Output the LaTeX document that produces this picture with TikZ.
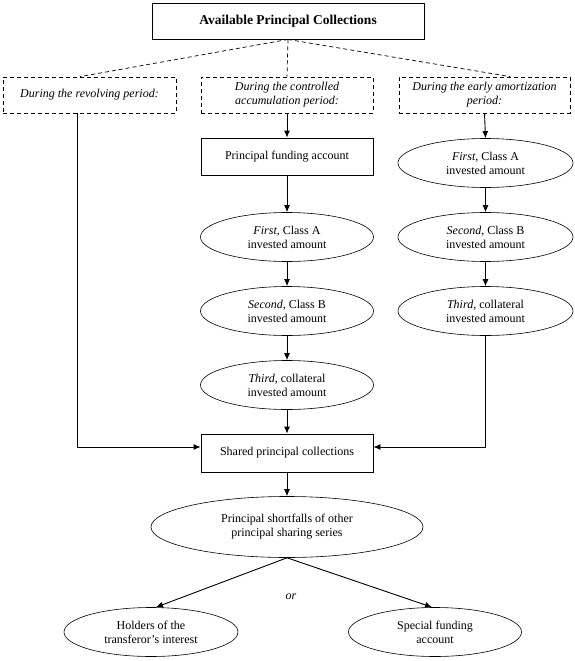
\documentclass[tikz,border=0pt]{standalone}
\usepackage{fontspec}
\setmainfont{Liberation Serif}
\usepackage{tikz}
\usetikzlibrary{shapes.geometric,arrows.meta,calc}

\begin{document}
\begin{tikzpicture}[x=1pt,y=-1pt,
		every node/.style={font=\fontsize{12}{14}\selectfont,align=center},
		solidbox/.style={draw,line width=0.9pt,minimum width=172pt,minimum height=37pt,inner sep=0pt},
		periodbox/.style={draw,dash pattern=on 4pt off 3pt,line width=0.7pt,minimum height=36pt,inner sep=0pt,font=\fontsize{12}{14}\selectfont\itshape},
		payee/.style={draw,ellipse,line width=0.6pt,minimum width=174pt,minimum height=49pt,inner sep=0pt},
		flow/.style={line width=0.9pt,-{Latex[length=7pt,width=6pt]}}]
				\useasboundingbox (0,0) rectangle (575,661);
				
				\node[solidbox,minimum width=272pt,minimum height=36pt,font=\fontsize{13.5}{16}\selectfont\bfseries] (avail) at (288,21){Available Principal Collections};
				
				\node[periodbox,minimum width=173pt] (rev) at (89.5,95){During the revolving period:};
				\node[periodbox,minimum width=172pt] (acc) at (287,95){During the controlled\\accumulation period:};
				\node[periodbox,minimum width=171pt] (early) at (484.5,95){During the early amortization\\period:};
				
				\draw[dash pattern=on 4pt off 3pt,line width=0.7pt] (avail.south)--($(rev.north west)!0.445!(rev.north east)$);
				\draw[dash pattern=on 4pt off 3pt,line width=0.7pt] (avail.south)--(acc.north);
				\draw[dash pattern=on 4pt off 3pt,line width=0.7pt] (avail.south)--($(early.north west)!0.65!(early.north east)$);
				
				\node[solidbox] (fund) at (287,156.5){Principal funding account};
				\node[payee,minimum width=173pt] (accA) at (287,237){\textit{First}, Class A\\invested amount};
				\node[payee,minimum width=173pt] (accB) at (287,311){\textit{Second}, Class B\\invested amount};
				\node[payee,minimum width=173pt] (accC) at (287,385){\textit{Third}, collateral\\invested amount};
				
				\node[payee,minimum width=175pt] (earlyA) at (485.5,163){\textit{First}, Class A\\invested amount};
				\node[payee,minimum width=175pt] (earlyB) at (485.5,237){\textit{Second}, Class B\\invested amount};
				\node[payee,minimum width=175pt] (earlyC) at (485.5,311){\textit{Third}, collateral\\invested amount};
				
				\node[solidbox,minimum height=38pt] (shared) at (287,453){Shared principal collections};
				\node[payee,minimum width=272pt,minimum height=61pt] (short) at (287,527){Principal shortfalls of other\\principal sharing series};
				\node[payee] (holders) at (151,632){Holders of the\\transferor's interest};
				\node[payee,minimum width=173pt] (special) at (435,632){Special funding\\account};
				\node[font=\fontsize{12}{14}\selectfont\itshape] (or) at (291,597){or};
				
				\coordinate (revout) at ($(rev.south west)!0.43!(rev.south east)$);
				
				\draw[flow] (revout)|-($(shared.west)+(0,-6)$);
				\draw[flow] (acc.south)--(fund.north);
				\draw[flow] (fund.south)--(accA.north);
				\draw[flow] (accA.south)--(accB.north);
				\draw[flow] (accB.south)--(accC.north);
				\draw[flow] (accC.south)--(shared.north);
				\draw[flow] (early.south)--(earlyA.north);
				\draw[flow] (earlyA.south)--(earlyB.north);
				\draw[flow] (earlyB.south)--(earlyC.north);
				\draw[flow] (earlyC.south)|-($(shared.east)+(0,-6)$);
				\draw[flow] (shared.south)--(short.north);
				\draw[flow] (short.south)--($(holders.north)+(5,0)$);
				\draw[flow] (short.south)--($(special.north)+(-3,0)$);
\end{tikzpicture}
\end{document}
